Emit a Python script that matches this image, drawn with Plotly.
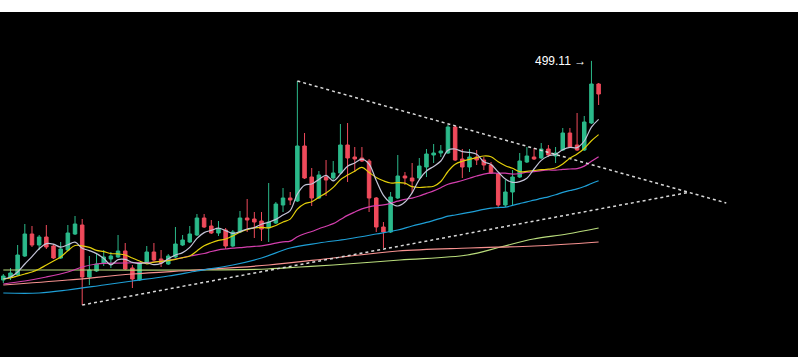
import plotly.graph_objects as go

# ---- candle data (index = trading day) ----
opens = [280, 283, 285, 304, 326, 315, 323, 314, 302, 310, 326, 335, 283, 289, 297, 301, 303, 309, 292, 280,
         298, 308, 301, 296, 303, 315, 318, 325, 342, 334, 327, 330, 314, 328, 342, 341, 339, 332, 337, 355,
         362, 359, 414, 383, 362, 383, 382, 387, 415, 403, 402, 399, 362, 333, 328, 362, 384, 382, 382, 393,
         405, 407, 407, 433, 401, 393, 403, 400, 395, 386, 355, 368, 383, 398, 403, 402, 411, 404, 410, 427,
         415, 410, 437, 476]
highs = [286, 292, 315, 336, 334, 325, 335, 316, 318, 335, 344, 341, 304, 307, 310, 308, 325, 317, 295, 298,
         314, 317, 310, 306, 333, 325, 334, 346, 346, 340, 339, 332, 330, 349, 361, 348, 348, 377, 358, 372,
         368, 479, 427, 392, 389, 400, 399, 436, 437, 413, 413, 401, 363, 338, 368, 405, 388, 397, 402, 411,
         416, 415, 435, 434, 411, 411, 410, 403, 398, 387, 380, 390, 407, 413, 412, 417, 415, 413, 432, 432,
         447, 444, 499.11, 477]
lows = [277, 280, 284, 303, 313, 310, 311, 301, 301, 309, 325, 255, 275, 288, 294, 292, 302, 290, 272, 279,
        297, 299, 293, 295, 302, 314, 317, 324, 332, 326, 324, 311, 313, 327, 328, 322, 319, 318, 336, 348,
        355, 358, 381, 354, 361, 364, 379, 386, 378, 388, 398, 348, 328, 312, 327, 361, 375, 367, 381, 383,
        397, 403, 406, 399, 382, 388, 395, 390, 386, 353, 353, 354, 382, 397, 400, 401, 403, 397, 409, 412,
        409, 409, 436, 455]
closes = [284, 287, 305, 326, 315, 323, 313, 302, 311, 327, 336, 283, 290, 296, 303, 304, 309, 291, 281, 297,
          308, 300, 297, 304, 316, 320, 326, 342, 333, 327, 331, 314, 328, 342, 340, 338, 331, 338, 356, 362,
          360, 414, 382, 362, 385, 380, 387, 415, 402, 401, 399, 362, 333, 328, 363, 384, 382, 379, 394, 406,
          407, 409, 433, 400, 393, 403, 400, 395, 387, 355, 368, 383, 399, 404, 401, 411, 405, 407, 427, 413,
          410, 438, 476, 466]
days = list(range(len(closes)))

# ---- moving-average lines ----
ma5 = [281, 283, 288, 296, 303.4, 311.2, 316.4, 315.8, 312.8, 315.2, 317.8, 311.8, 309.4, 306.4, 301.6, 295.2,
       300.4, 300.6, 297.6, 296.4, 297.2, 295.4, 296.6, 301.2, 305.0, 307.4, 312.6, 321.6, 327.4, 329.6, 331.8,
       329.4, 326.6, 328.4, 331.0, 332.4, 335.8, 337.8, 340.6, 345.0, 349.4, 366.0, 374.8, 376.0, 380.6, 384.6,
       379.2, 385.8, 393.8, 397.0, 400.8, 395.8, 379.4, 364.6, 357.0, 354.0, 358.0, 367.2, 380.4, 389.0, 393.6,
       399.0, 409.8, 411.0, 408.4, 407.6, 405.8, 398.2, 395.6, 388.0, 381.0, 377.6, 378.4, 381.8, 391.0, 399.6,
       404.0, 405.6, 410.2, 412.6, 412.4, 419.0, 432.8, 440.6]
ma10 = [281, 282, 284, 286, 288, 291, 295, 299, 303, 309.3, 314.5, 314.1, 312.6, 309.6, 308.4, 306.5, 306.1,
        305.0, 302.0, 299.0, 296.2, 297.9, 298.6, 299.4, 300.7, 302.3, 304.0, 309.1, 314.3, 317.3, 319.6, 321.0,
        324.1, 327.9, 330.3, 332.1, 332.6, 332.2, 334.5, 338.0, 340.9, 350.9, 356.3, 358.3, 362.8, 367.0, 372.6,
        380.3, 384.9, 388.8, 392.7, 387.5, 382.6, 379.2, 377.0, 377.4, 376.9, 373.3, 372.5, 373.0, 373.8, 378.5,
        388.5, 395.7, 398.7, 400.6, 402.4, 404.0, 403.3, 398.2, 394.3, 391.7, 388.3, 388.7, 389.5, 390.3, 390.8,
        392.0, 396.0, 401.8, 406.0, 411.5, 419.2, 425.4]
ma30_x = [0, 3, 6, 9, 11, 13, 17, 21, 24, 26, 28] + list(range(29, 84))
ma30 = [276, 279, 283, 288, 293, 296, 297, 298, 301, 304, 306.5,
        308.5, 310.1, 311.0, 311.8, 312.3, 313.1, 313.6, 314.2, 315.4, 316.9, 318.1, 318.9, 323.3, 326.3,
        328.5, 331.3, 333.8, 336.4, 340.5, 344.6, 348.0, 351.1, 353.1, 354.3, 355.1, 356.7, 358.8, 360.7,
        361.9, 364.0, 366.6, 369.1, 372.3, 375.8, 377.7, 379.5, 381.7, 384.0, 385.9, 386.9, 386.7, 386.9,
        385.9, 386.5, 387.9, 388.4, 389.4, 390.0, 389.8, 390.6, 391.0, 391.4, 393.9, 398.7, 403.3]
ma60_x = [0, 5, 9, 14, 18, 23, 27, 32, 36, 40, 44, 48, 52, 55, 57] + list(range(59, 84))
ma60 = [267, 267, 270, 275, 279, 284, 289, 295, 302, 312, 317, 321, 326, 330, 334,
        337.6, 339.6, 341.7, 343.8, 345.0, 346.3, 347.7, 349.1, 350.7, 351.9, 352.4, 352.9, 354.6, 356.4,
        358.2, 359.8, 361.6, 363.2, 365.2, 367.6, 369.5, 371.2, 373.5, 376.5, 379.2]
ma120_x = [0, 9, 18, 27, 37, 46, 55, 65, 74, 83]
ma120 = [275, 280, 286, 290, 295, 302, 309, 312, 314, 318]
ma250_x = [0, 13.5, 27.4, 36.8, 41.4, 46, 55.3, 64.7, 69.3, 73.9, 78.6, 83]
ma250 = [290, 290, 290, 291, 293, 295, 300, 305, 313, 321, 326, 332]

# ---- triangle trend lines ----
upper_x = [41, 100.8]
upper_y = [479, 357]
lower_x = [11, 95.5]
lower_y = [255, 367.5]

peak_label = "499.11 →"

fig = go.Figure()

fig.add_trace(go.Scatter(x=ma250_x, y=ma250, mode="lines", line=dict(color="#b9dc7c", width=1.2, shape="spline"),
                         hoverinfo="skip"))
fig.add_trace(go.Scatter(x=ma120_x, y=ma120, mode="lines", line=dict(color="#f6918f", width=1.2, shape="spline"),
                         hoverinfo="skip"))
fig.add_trace(go.Scatter(x=ma60_x, y=ma60, mode="lines", line=dict(color="#1e9fd6", width=1.2, shape="spline"),
                         hoverinfo="skip"))
fig.add_trace(go.Scatter(x=ma30_x, y=ma30, mode="lines", line=dict(color="#d43fae", width=1.2, shape="spline"),
                         hoverinfo="skip"))
fig.add_trace(go.Scatter(x=upper_x, y=upper_y, mode="lines", line=dict(color="#d9d9d9", width=1.5, dash="dot"),
                         hoverinfo="skip"))
fig.add_trace(go.Scatter(x=lower_x, y=lower_y, mode="lines", line=dict(color="#d9d9d9", width=1.5, dash="dot"),
                         hoverinfo="skip"))

fig.add_trace(go.Candlestick(
    x=days, open=opens, high=highs, low=lows, close=closes,
    increasing=dict(line=dict(color="#2bb98a", width=1), fillcolor="#2bb98a"),
    decreasing=dict(line=dict(color="#ef4a5b", width=1), fillcolor="#ef4a5b"),
    whiskerwidth=0,
))

fig.add_trace(go.Scatter(x=days, y=ma10, mode="lines", line=dict(color="#e3cf0a", width=1.2, shape="spline"),
                         hoverinfo="skip"))
fig.add_trace(go.Scatter(x=days, y=ma5, mode="lines", line=dict(color="#c4c4d8", width=1.2, shape="spline"),
                         hoverinfo="skip"))

peak_i = highs.index(max(highs))
fig.add_annotation(x=days[peak_i], y=highs[peak_i], text=peak_label, showarrow=False,
                   xanchor="right", yanchor="middle", xshift=-3,
                   font=dict(color="#ffffff", size=12, family="Liberation Sans, Arial, sans-serif"))

fig.update_layout(
    width=798, height=357,
    margin=dict(l=0, r=0, t=12, b=0),
    paper_bgcolor="#ffffff",
    plot_bgcolor="#000000",
    showlegend=False,
    boxgap=0.3,
    xaxis=dict(range=[-0.46, 110.8], visible=False, showgrid=False, zeroline=False,
               rangeslider=dict(visible=False), fixedrange=True),
    yaxis=dict(range=[203, 548], visible=False, showgrid=False, zeroline=False, fixedrange=True),
)

fig.write_html("out.html", config={"displayModeBar": False})

# remove the browser's default page margin so the figure fills the window
with open("out.html", "r", encoding="utf-8") as fh:
    page = fh.read()
page = page.replace("<body>", '<body style="margin:0;padding:0;overflow:hidden">', 1)
with open("out.html", "w", encoding="utf-8") as fh:
    fh.write(page)
